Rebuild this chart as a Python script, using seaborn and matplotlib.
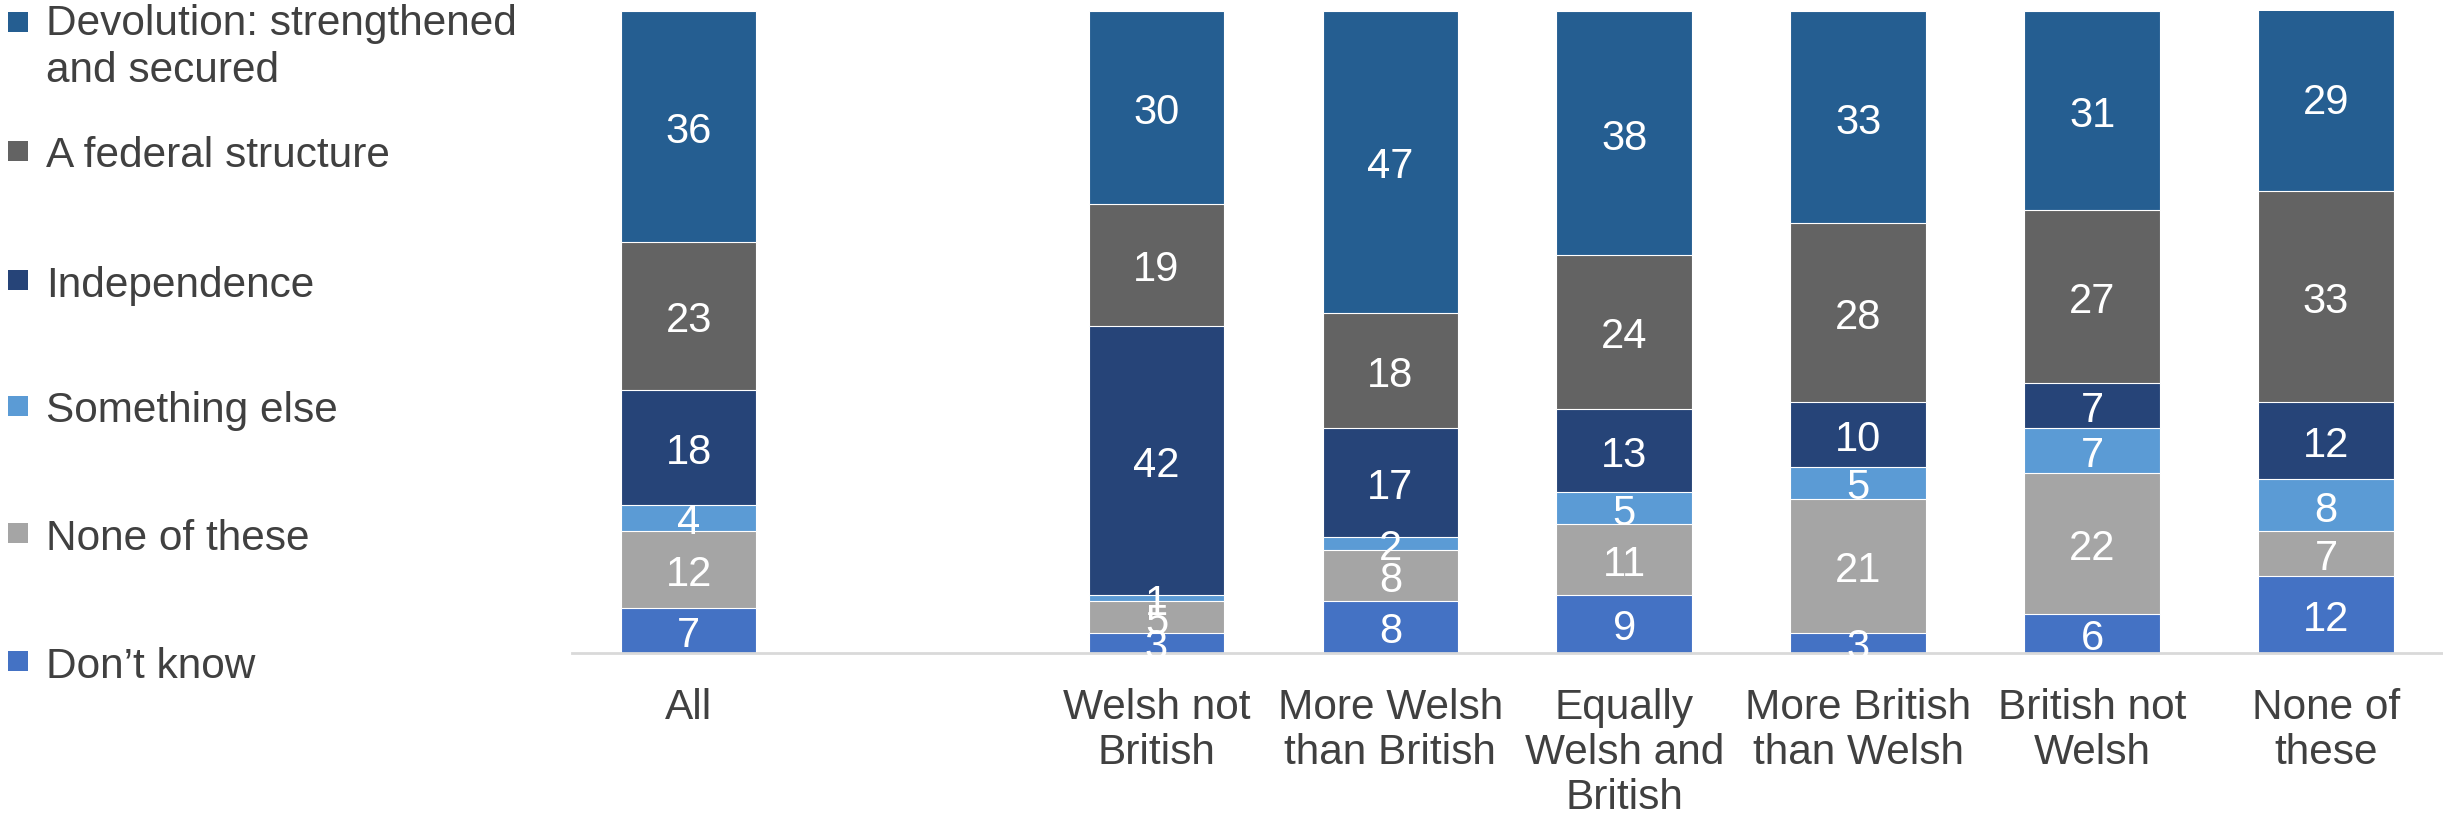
import matplotlib
matplotlib.use("Agg")
import matplotlib.pyplot as plt
import seaborn as sns
import pandas as pd
import numpy as np
from matplotlib.patches import Rectangle

categories = ["All", "Welsh not\nBritish", "More Welsh\nthan British", "Equally\nWelsh and\nBritish",
              "More British\nthan Welsh", "British not\nWelsh", "None of\nthese"]
series = ["Devolution: strengthened\nand secured", "A federal structure", "Independence",
          "Something else", "None of these", "Don\u2019t know"]
devolution = [36, 30, 47, 38, 33, 31, 29]
federal = [23, 19, 18, 24, 28, 27, 33]
independence = [18, 42, 17, 13, 10, 7, 12]
something_else = [4, 1, 2, 5, 5, 7, 8]
none_of_these = [12, 5, 8, 11, 21, 22, 7]
dont_know = [7, 3, 8, 9, 3, 6, 12]

colors = ["#255E91", "#636363", "#264478", "#5B9BD5", "#A5A5A5", "#4472C4"]

sns.set_theme(style="white")
plt.rcParams['font.family'] = ['Liberation Sans', 'DejaVu Sans']
TXT = "#404040"

# stacking bottom -> top
stack = [dont_know, none_of_these, something_else, independence, federal, devolution]
stack_colors = colors[::-1]

order = [categories[0], " "] + categories[1:]

fig = plt.figure(figsize=(24.43, 8.2), dpi=100)
ax = fig.add_axes([0.234, 0.203, 0.766, 0.782])

cum = np.cumsum(np.array(stack), axis=0)
# draw tallest cumulative first so lower segments overlay
for i in range(len(stack) - 1, -1, -1):
    df = pd.DataFrame({"cat": categories, "val": cum[i]})
    sns.barplot(data=df, x="cat", y="val", order=order, color=stack_colors[i],
                width=0.58, edgecolor="white", linewidth=0.8, ax=ax, saturation=1,
                errorbar=None)

# labels
pos = {c: order.index(c) for c in categories}
for i in range(len(stack)):
    for j, c in enumerate(categories):
        v = stack[i][j]
        bottom = cum[i][j] - v
        ax.text(pos[c], bottom + v / 2, str(v), ha="center", va="center_baseline",
                color="white", fontsize=30, clip_on=False)

ax.set_ylim(0, 100)
ax.set_xlim(-0.5, len(order) - 0.5)
ax.set_xlabel("")
ax.set_ylabel("")
ax.set_yticks([])
ax.set_xticks(range(len(order)))
ax.set_xticklabels(order, fontsize=30.5, color=TXT, linespacing=1.15)
ax.tick_params(axis="x", length=0, pad=25)
for t in ax.get_xticklabels():
    t.set_verticalalignment("top")
for s in ["top", "right", "left"]:
    ax.spines[s].set_visible(False)
ax.spines["bottom"].set_color("#D9D9D9")
ax.spines["bottom"].set_linewidth(2)

# legend (manual, left side)
W, H = 2443, 820
ys = [23, 152, 281, 407, 534, 662]
for k, (lab, col) in enumerate(zip(series, colors)):
    y = ys[k]
    fig.add_artist(Rectangle((8 / W, 1 - (y + 10) / H), 20 / W, 20 / H,
                             transform=fig.transFigure, color=col, lw=0))
    if "\n" in lab:
        fig.text(46 / W, 1 - 4 / H, lab, fontsize=30.5, color=TXT, va="top",
                 ha="left", linespacing=1.22)
    else:
        fig.text(46 / W, 1 - y / H, lab, fontsize=30.5, color=TXT, va="center_baseline",
                 ha="left")

fig.savefig("out.png", dpi=100)
